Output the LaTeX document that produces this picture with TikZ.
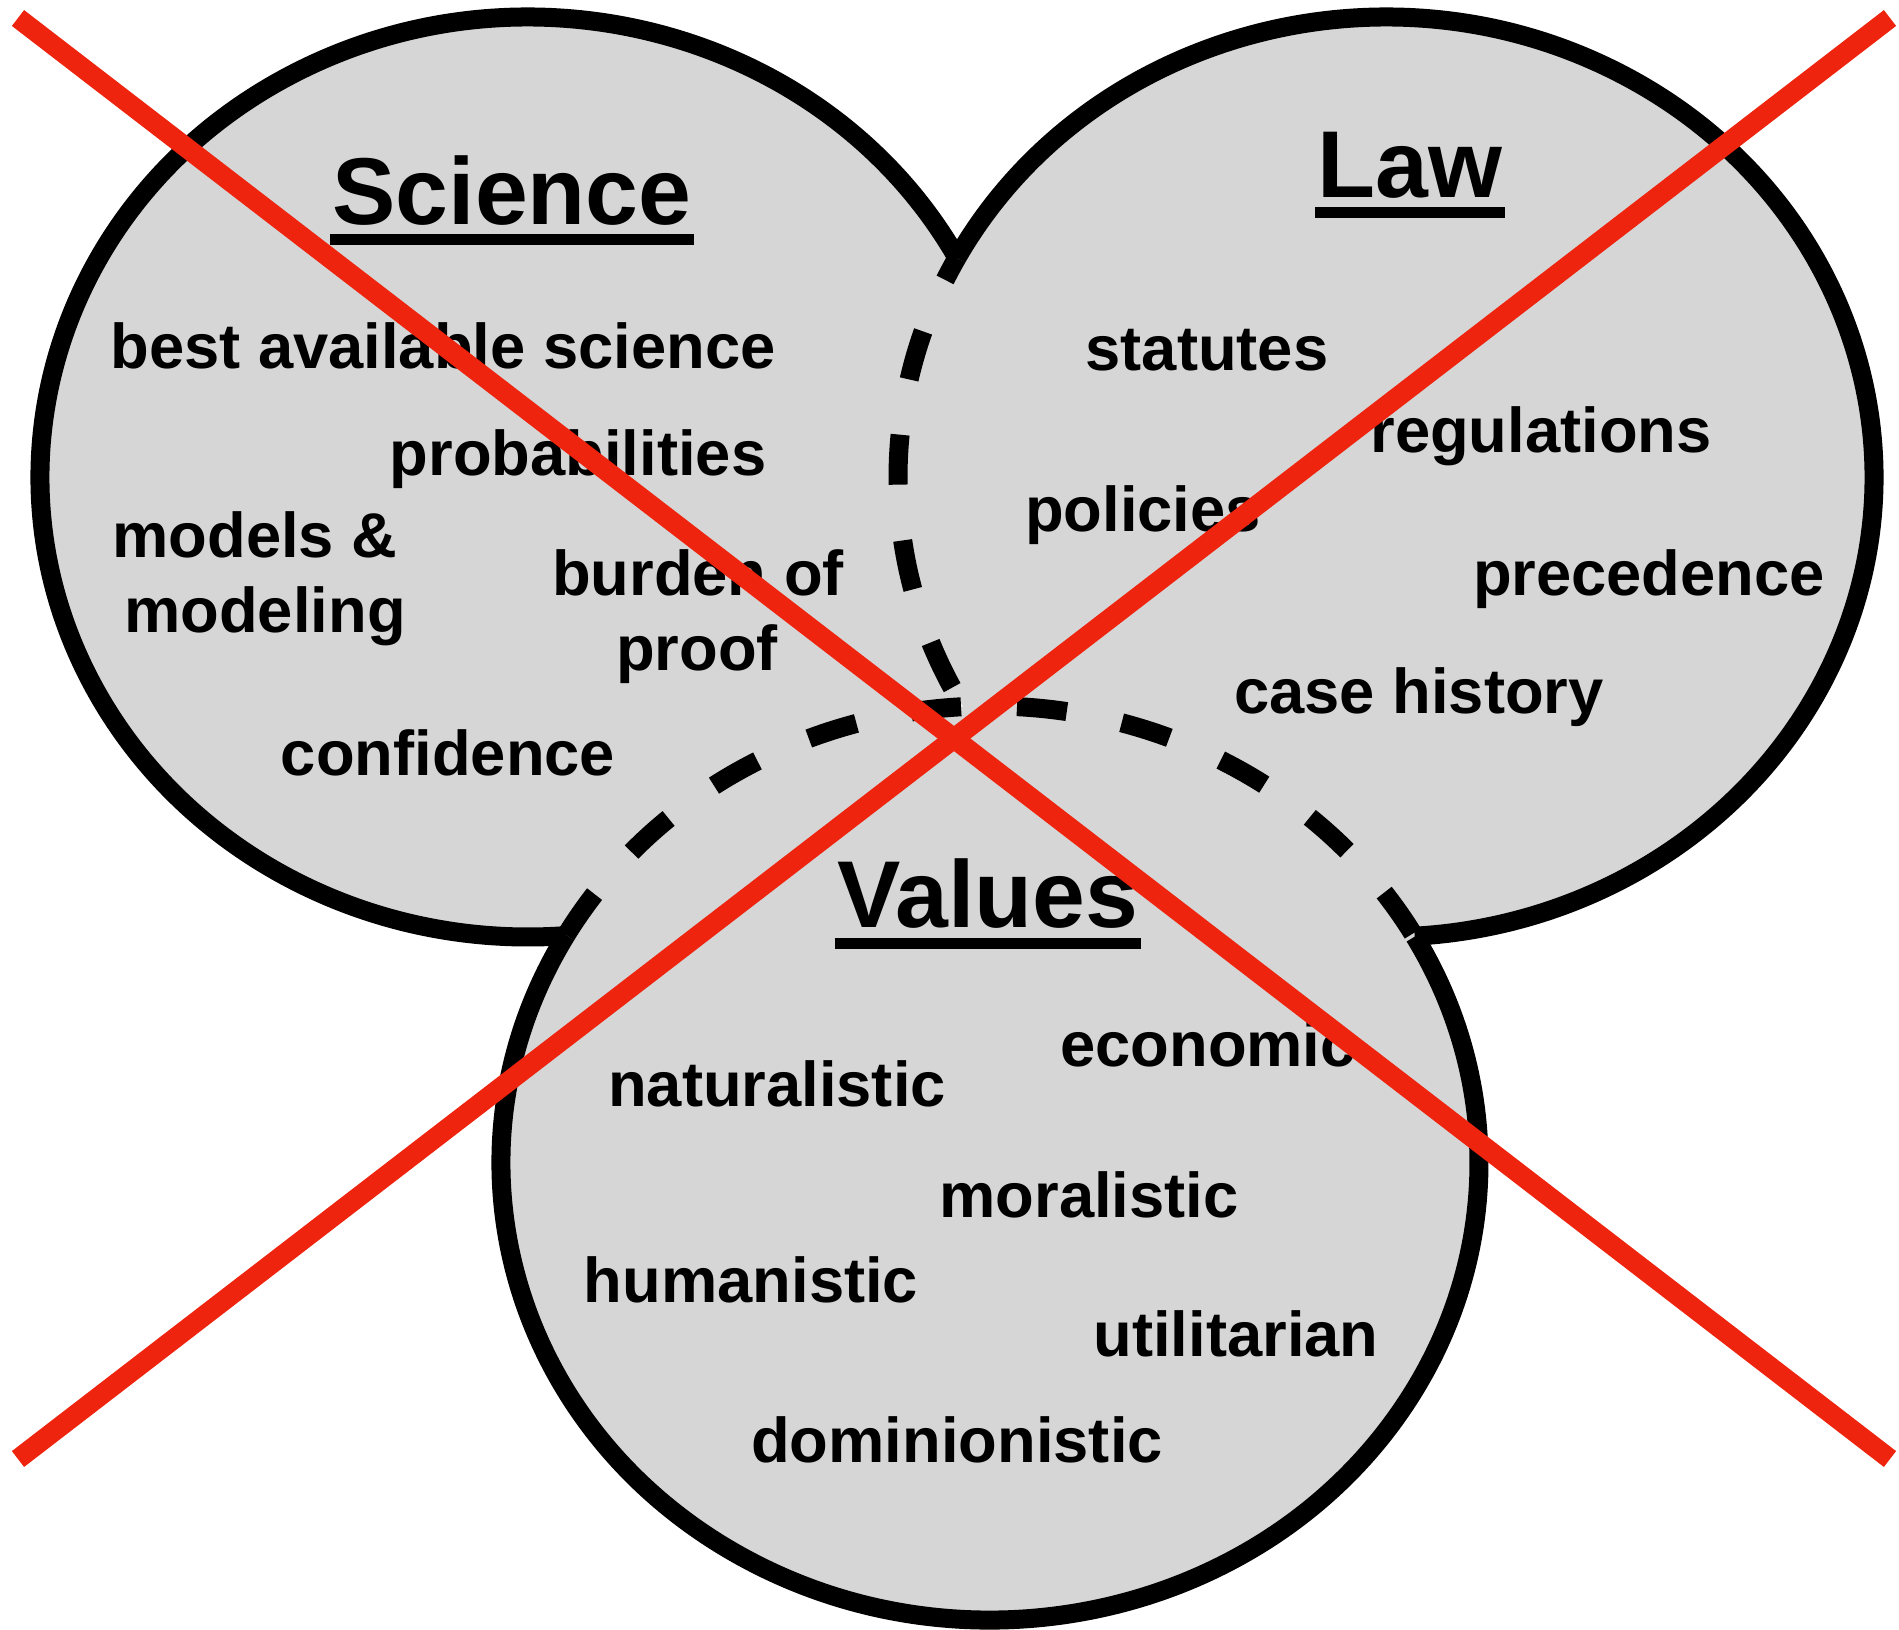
\documentclass[tikz,border=0pt]{standalone}
\usepackage{fontspec}
\setmainfont{Liberation Sans}
\usetikzlibrary{positioning}

\definecolor{setgray}{RGB}{214,214,214}
\definecolor{crossred}{RGB}{238,36,14}

\begin{document}
\begin{tikzpicture}[x=0.01cm, y=-0.01cm,
    % Define styles
    set/.style={fill=setgray, draw=none},
    rim/.style={draw=black, line width=0.19cm},
    hidden/.style={rim, dash pattern=on 0.5cm off 0.56cm},
    heading/.style={font=\fontsize{27}{32}\selectfont\bfseries, anchor=base, inner sep=0.02cm},
    item/.style={font=\fontsize{18}{21}\selectfont\bfseries, anchor=base, inner sep=0pt},
    uline/.style={line width=0.11cm},
    cross/.style={draw=crossred, line width=0.2cm},
    ]

    \useasboundingbox (0,0) rectangle (1899,1629);

    % Centres of the three sets
    \coordinate (sci) at (528,477);
    \coordinate (law) at (1386,477);
    \coordinate (val) at (990,1163);

    % Fills
    \fill[set] (sci) ellipse [x radius=488, y radius=460];
    \fill[set] (law) ellipse [x radius=488, y radius=460];
    \fill[set] (val) ellipse [x radius=489, y radius=457];

    % Solid outlines
    \draw[rim] (sci) ++(-28.45:488 and 460) arc[start angle=-28.45, end angle=-274.45, x radius=488, y radius=460];
    \draw[rim] (law) ++(-151.55:488 and 460) arc[start angle=-151.55, end angle=86.63, x radius=488, y radius=460];
    \draw[rim] (val) ++(209.9:489 and 457) arc[start angle=209.9, end angle=-29.7, x radius=489, y radius=457];

    % Dashed outlines inside the other sets
    \draw[hidden, dash phase=0.25cm] (law) ++(208.45:488 and 460) arc[start angle=208.45, end angle=150.05, x radius=488, y radius=460];
    \draw[hidden] (val) ++(209.9:489 and 457) arc[start angle=209.9, end angle=330.3, x radius=489, y radius=457];

    % Headings
    \node[heading] (science) at (512,224) {Science};
    \node[heading] (lawtitle) at (1410,197) {Law};
    \node[heading] (values) at (988,927) {Values};
    \draw[uline] ([yshift=-0.15cm]science.base west) -- ([yshift=-0.15cm]science.base east);
    \draw[uline] ([yshift=-0.15cm]lawtitle.base west) -- ([yshift=-0.15cm]lawtitle.base east);
    \draw[uline] ([yshift=-0.16cm]values.base west) -- ([yshift=-0.16cm]values.base east);

    % Science items
    \node[item] (bestsci) at (443,368) {best available science};
    \node[item] (prob) at (578,475) {probabilities};
    \node[item] (models) at (255,557) {models \&};
    \node[item] (modeling) at (265,632) {modeling};
    \node[item] (burden) at (698,595) {burden of};
    \node[item] (proof) at (697,670) {proof};
    \node[item] (conf) at (448,775) {confidence};

    % Law items
    \node[item] (statutes) at (1207,370) {statutes};
    \node[item] (regs) at (1541,452) {regulations};
    \node[item] (policies) at (1143,531) {policies};
    \node[item] (prec) at (1649,595) {precedence};
    \node[item] (cases) at (1419,713) {case history};

    % Values items
    \node[item] (econ) at (1208,1066) {economic};
    \node[item] (natur) at (777,1106) {naturalistic};
    \node[item] (moral) at (1089,1217) {moralistic};
    \node[item] (human) at (751,1302) {humanistic};
    \node[item] (util) at (1236,1356) {utilitarian};
    \node[item] (domin) at (957,1462) {dominionistic};

    % Red cross
    \coordinate (nw) at (18,18);
    \coordinate (se) at (1890,1459);
    \coordinate (ne) at (1890,18);
    \coordinate (sw) at (18,1459);
    \draw[cross] (nw) -- (se);
    \draw[cross] (ne) -- (sw);

\end{tikzpicture}
\end{document}
